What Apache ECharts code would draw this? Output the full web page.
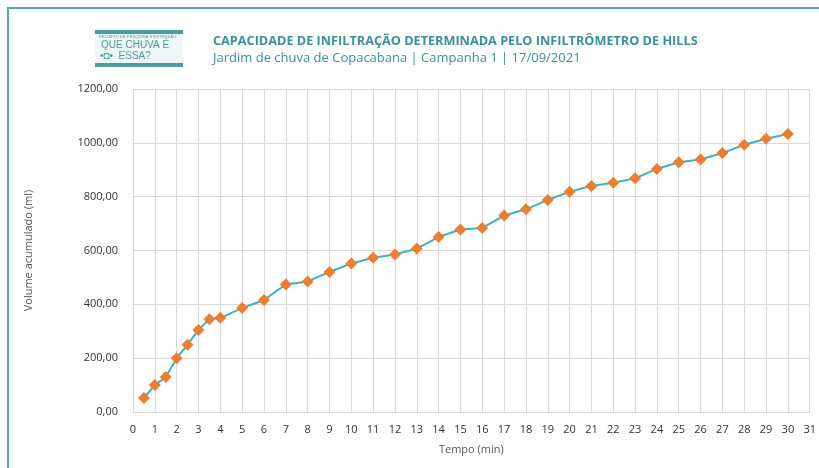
<!DOCTYPE html>
<html lang="pt" style="height: 100%">
<head>
    <meta charset="UTF-8">
    <title>Capacidade de infiltração</title>
    <script src="https://cdn.jsdelivr.net/npm/echarts@6/dist/echarts.min.js"></script>
</head>
<body style="height: 100%; margin: 0; background: #fff">
<div id="main" style="width: 819px; height: 468px"></div>
<script>
    // tempo (min) e volume acumulado (ml)
    var tempo = [0.5, 1, 1.5, 2, 2.5, 3, 3.5, 4, 5, 6, 7, 8, 9, 10, 11, 12, 13, 14, 15, 16,
        17, 18, 19, 20, 21, 22, 23, 24, 25, 26, 27, 28, 29, 30];
    var volume = [52, 100, 130, 200, 250, 305, 345, 350, 386, 416, 474, 485, 520, 552, 573, 585, 607, 650, 678, 684,
        730, 753, 788, 818, 840, 852, 868, 903, 928, 938, 962, 993, 1015, 1033];

    var titulo = 'CAPACIDADE DE INFILTRAÇÃO DETERMINADA PELO INFILTRÔMETRO DE HILLS';
    var subtitulo = 'Jardim de chuva de Copacabana | Campanha 1 | 17/09/2021';

    var pontos = [];
    for (var i = 0; i < tempo.length; i++) {
        pontos.push([tempo[i], volume[i]]);
    }

    var teal = '#3a9196';
    var myChart = echarts.init(document.getElementById('main'));
    myChart.setOption({
        animation: false,
        textStyle: {fontFamily: 'Open Sans'},
        title: {
            text: titulo,
            subtext: subtitulo,
            left: 208,
            top: 30,
            itemGap: 4,
            textStyle: {fontSize: 12.7, fontWeight: 'bold', color: teal, fontFamily: 'Open Sans'},
            subtextStyle: {fontSize: 13, color: teal, fontFamily: 'Open Sans'}
        },
        graphic: [
            // moldura
            {type: 'rect', shape: {x: 8, y: 8, width: 830, height: 480},
                style: {fill: null, stroke: '#5aa7a7', lineWidth: 2}},
            // logo
            {type: 'rect', shape: {x: 95, y: 30, width: 88, height: 4}, style: {fill: '#4a9d9d'}},
            {type: 'rect', shape: {x: 95, y: 63, width: 88, height: 4}, style: {fill: '#4a9d9d'}},
            {type: 'rect', shape: {x: 95, y: 34, width: 88, height: 29}, style: {fill: '#eef6f6'}},
            {type: 'text', left: 99, top: 35, style: {text: 'PROJETO DE PESQUISA E EXTENSÃO', fontSize: 4.2, fill: '#4a9d9d'}},
            {type: 'text', left: 101, top: 40, style: {text: 'QUE CHUVA É', fontSize: 10, fill: '#4a9d9d'}},
            {type: 'text', left: 100, top: 51, style: {text: '•◘•  ESSA?', fontSize: 10, fill: '#4a9d9d'}}
        ],
        grid: {left: 133, right: 5, top: 89, bottom: 56},
        xAxis: {
            type: 'value',
            min: 0,
            max: 31,
            interval: 1,
            name: 'Tempo (min)',
            nameLocation: 'middle',
            nameGap: 32,
            nameTextStyle: {fontSize: 11, color: '#555'},
            axisLine: {lineStyle: {color: '#d9d9d9'}},
            axisTick: {show: false},
            axisLabel: {fontSize: 11, color: '#333', margin: 12},
            splitLine: {lineStyle: {color: '#d9d9d9'}}
        },
        yAxis: {
            type: 'value',
            min: 0,
            max: 1200,
            interval: 200,
            name: 'Volume acumulado (ml)',
            nameLocation: 'middle',
            nameGap: 99,
            nameTextStyle: {fontSize: 11, color: '#555'},
            axisLine: {show: false},
            axisTick: {show: false},
            axisLabel: {
                fontSize: 11, color: '#333', margin: 15,
                formatter: function (v) { return v.toFixed(2).replace('.', ','); }
            },
            splitLine: {lineStyle: {color: '#d9d9d9'}}
        },
        series: [{
            type: 'line',
            data: pontos,
            symbol: 'diamond',
            symbolSize: 12,
            lineStyle: {color: '#3ab5b5', width: 2},
            itemStyle: {color: '#ed7d31'}
        }]
    });
</script>
</body>
</html>
